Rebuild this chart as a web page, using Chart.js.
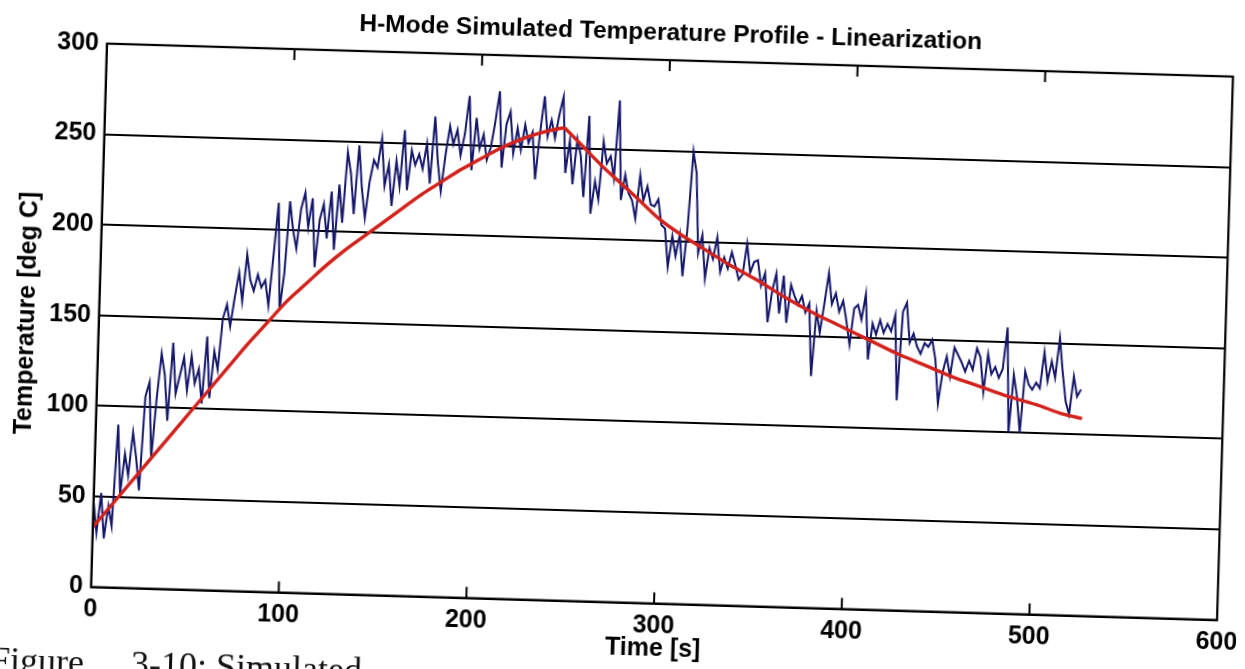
<!DOCTYPE html>
<html><head><meta charset="utf-8">
<script src="https://cdn.jsdelivr.net/npm/chart.js@4.4.1/dist/chart.umd.min.js"></script>
<style>
html,body{margin:0;padding:0;background:#fff;overflow:hidden;width:1245px;height:669px;}
#wrap{position:absolute;left:0;top:0;width:1245px;height:669px;transform:rotate(1.68deg);transform-origin:662px 331.5px;}
.cap{position:absolute;top:661px;font-family:"Liberation Serif","Times New Roman",serif;font-size:36px;line-height:1;color:#111;white-space:nowrap;}
</style></head><body>
<div id="wrap">
  <canvas id="c" width="1245" height="669"></canvas>
  <div class="cap" style="left:0px">Figure</div>
  <div class="cap" style="left:141px">3-10: Simulated</div>
</div>
<script>
// ---- data ----
const titleText = 'H-Mode Simulated Temperature Profile - Linearization';
const xAxisLabel = 'Time [s]';
const yAxisLabel = 'Temperature [deg C]';
const xTickValues = [0,100,200,300,400,500,600];
const yTickValues = [0,50,100,150,200,250,300];

// measured (noisy) temperature, sampled every 2 s
const sampleTimes = [
  0,2,4,6,8,10,12,14,16,18,20,22,24,26,28,30,32,34,36,38,
  40,42,44,46,48,50,52,54,56,58,60,62,64,66,68,70,72,74,76,78,
  80,82,84,86,88,90,92,94,96,98,100,102,
  104,106,108,110,112,114,116,118,120,122,
  124,126,128,130,132,134,136,138,140,142,
  144,146,148,150,152,154,156,158,160,162,
  164,166,168,170,172,174,176,178,180,182,
  184,186,188,190,192,194,196,198,200,202,
  204,206,208,210,212,214,216,218,220,222,
  224,226,228,230,232,234,236,238,240,242,
  244,246,248,250,252,254,256,258,260,262,
  264,266,268,270,272,274,276,278,280,282,
  284,286,288,290,292,294,296,298,300,302,
  304,306,308,310,312,314,316,318,320,322,
  324,326,328,330,332,334,336,338,340,342,
  344,346,348,350,352,354,356,358,360,362,
  364,366,368,370,372,374,376,378,380,382,
  384,386,388,390,392,394,396,398,400,402,
  404,406,408,410,412,414,416,418,420,422,
  424,426,428,430,432,434,436,438,440,442,
  444,446,448,450,452,454,456,458,460,462,
  464,466,468,470,472,474,476,478,480,482,
  484,486,488,490,492,494,496,498,500,502,
  504,506,508,510,512,514,516,518,520,522,
  524
];
const measuredTemps = [
  48,30,52,27,45,34,90,52,74,62,86,72,54,106,114,72,105,130,118,93,
  136,108,118,128,110,129,114,122,103,140,106,132,122,150,158,146,162,176,160,186,
  172,166,175,168,172,158,186,215,156,176,216,200,
  190,212,221,202,218,180,206,215,196,222,
  190,226,205,244,232,210,248,224,208,228,
  240,236,252,226,238,215,240,226,257,224,
  246,238,244,236,250,228,265,240,224,244,
  260,250,258,244,256,277,236,265,248,256,
  242,249,263,280,238,262,269,246,260,248,
  262,252,258,232,258,278,256,265,255,268,
  278,236,254,230,255,246,223,268,214,232,
  222,254,242,246,234,277,222,236,226,222,
  212,236,222,230,220,219,223,209,207,186,
  203,192,204,181,208,250,238,194,204,180,
  197,191,203,184,192,186,195,188,180,183,
  200,184,190,191,177,184,157,174,184,162,
  183,157,178,172,167,172,163,168,128,164,
  152,168,185,168,174,164,170,159,146,166,
  168,160,174,138,158,152,160,153,158,154,
  163,116,165,170,148,153,146,142,148,146,
  150,139,115,132,141,130,146,142,138,133,
  139,134,146,141,122,143,132,136,130,135,
  158,100,132,120,100,134,127,124,128,125,
  145,129,140,131,153,134,118,111,132,121,
  125
];

// linearization (red fit): heating branch and cooling branch meet at the peak
const fitRiseTimes = [0,10,20,30,40,50,60,70,80,90,100,110,120,130,140,150,160,170,180,190,200,210,220,230,240,245];
const fitRiseTemps = [33,46,59,72,85,98,111,124,137,149,161,171,181,190,198,206,214,222,229,236,242,248,253,257,260,261];
const fitFallTimes = [245,255,265,275,285,297,310,320,335,350,365,380,395,410,425,440,455,470,485,500,515,525];
const fitFallTemps = [261,251,241,232,223,212,203,197,188,180,171,163,156,149,142,136,130,125,120,116,111,109];

// ---- chart ----
const FONT = '"Liberation Sans", Arial, Helvetica, sans-serif';
const titleFont = {family: FONT, size: 24.5, weight: 'bold'};
const tickFont = {family: FONT, size: 25, weight: 'bold'};
const axisFont = {family: FONT, size: 25, weight: 'bold'};
const RED = '#d3221b';

const framePlugin = {
  id: 'frame',
  afterDraw(chart) {
    const {ctx, chartArea: a, scales: {x}} = chart;
    ctx.save();
    ctx.strokeStyle = '#000';
    ctx.lineWidth = 2.2;
    ctx.strokeRect(a.left, a.top, a.right - a.left, a.bottom - a.top);
    ctx.lineWidth = 2;
    ctx.beginPath();
    xTickValues.slice(1, -1).forEach(v => {
      const px = x.getPixelForValue(v);
      ctx.moveTo(px, a.bottom); ctx.lineTo(px, a.bottom - 11);
      ctx.moveTo(px, a.top); ctx.lineTo(px, a.top + 11);
    });
    ctx.stroke();
    ctx.restore();
  }
};

const pts = (xs, ys) => xs.map((t, i) => ({x: t, y: ys[i]}));

new Chart(document.getElementById('c'), {
  type: 'line',
  data: {
    datasets: [
      {
        label: 'Simulated temperature',
        data: pts(sampleTimes, measuredTemps),
        borderColor: '#15176b',
        borderWidth: 2,
        pointRadius: 0,
        tension: 0,
        order: 2
      },
      {
        label: 'Linearization (heating)',
        data: pts(fitRiseTimes, fitRiseTemps),
        borderColor: RED, borderWidth: 3.4, pointRadius: 0,
        cubicInterpolationMode: 'monotone', order: 0
      },
      {
        label: 'Linearization (cooling)',
        data: pts(fitFallTimes, fitFallTemps),
        borderColor: RED, borderWidth: 3.4, pointRadius: 0,
        cubicInterpolationMode: 'monotone', order: 1
      }
    ]
  },
  options: {
    responsive: false,
    animation: false,
    devicePixelRatio: 1,
    layout: {padding: {left: 0, right: 19.75, top: 0, bottom: 0}},
    plugins: {
      legend: {display: false},
      tooltip: {enabled: false},
      title: {
        display: true, text: titleText, fullSize: false, color: '#000',
        font: titleFont, padding: {top: 18.6, bottom: 12}
      }
    },
    scales: {
      x: {
        type: 'linear', min: 0, max: 600,
        afterBuildTicks(s) { s.ticks = xTickValues.map(v => ({value: v})); },
        ticks: {color: '#000', font: tickFont, padding: 8, maxRotation: 0, autoSkip: false},
        grid: {display: false, drawTicks: false},
        border: {display: true, color: '#000', width: 2},
        title: {display: true, text: xAxisLabel, color: '#000', font: axisFont, padding: {top: 0, bottom: 4.6}},
        afterFit(s) { s.height = 65.4; s.paddingLeft = 0; s.paddingRight = 0; }
      },
      y: {
        min: 0, max: 300,
        afterBuildTicks(s) { s.ticks = yTickValues.map(v => ({value: v})); },
        ticks: {color: '#000', font: tickFont, padding: 8},
        grid: {color: '#000', lineWidth: 2, drawTicks: false},
        border: {display: true, color: '#000', width: 2},
        title: {display: true, text: yAxisLabel, color: '#000', font: axisFont, padding: {top: 12, bottom: 0}},
        afterFit(s) { s.width = 98.75; s.paddingTop = 0; s.paddingBottom = 0; }
      }
    }
  },
  plugins: [framePlugin]
});
</script>
</body></html>
